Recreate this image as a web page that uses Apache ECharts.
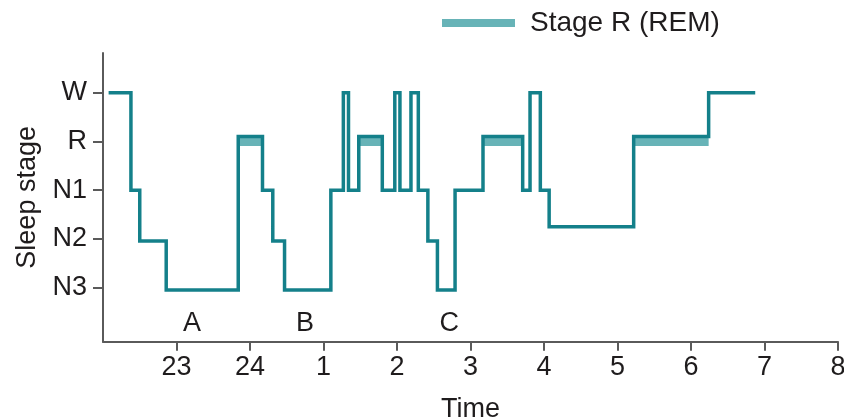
<!DOCTYPE html>
<html>
<head>
<meta charset="utf-8">
<script src="https://cdn.jsdelivr.net/npm/echarts@6/dist/echarts.min.js"></script>
<style>html,body{margin:0;padding:0;background:#fff}#c{width:844px;height:420px}</style>
</head>
<body>
<div id="c"></div>
<script>
// Hypnogram transitions: time (hours, 24 = midnight, 25 = 1 am ...) and stage level held from that time
var times = [22.10, 22.38, 22.50, 22.86, 23.84, 24.17, 24.31, 24.47, 25.10, 25.27, 25.34, 25.48, 25.80, 25.97, 26.04, 26.19, 26.29, 26.42, 26.55, 26.79, 27.17, 27.71, 27.81, 27.95, 28.07, 29.22, 30.24, 30.85];
var stages = [5, 3, 1.96, 0.95, 4.1, 3, 1.96, 0.95, 3, 5, 3, 4.1, 3, 5, 3, 5, 3, 1.96, 0.95, 3, 4.1, 3, 5, 3, 2.25, 4.1, 5, 5];
// REM periods (start, end)
var remStart = [23.84, 25.48, 27.17, 29.22];
var remEnd   = [24.17, 25.80, 27.71, 30.24];
var remLevel = 4.0;
// Axis ticks
var stageTickValues = [1, 2, 3, 4, 5];
var stageTickLabels = ['N3', 'N2', 'N1', 'R', 'W'];
var timeTickValues = [23, 24, 25, 26, 27, 28, 29, 30, 31, 32];
var timeTickLabels = ['23', '24', '1', '2', '3', '4', '5', '6', '7', '8'];
// Cycle annotations
var annoText = ['A', 'B', 'C'];
var annoTime = [23.21, 24.75, 26.71];
var annoLevel = [0.27, 0.27, 0.27];

var FONT = 'Liberation Sans, Arial, sans-serif';
var TXT = '#1f1c1d';
var AX = '#5a5a5a';
var FS = 27;

var mainData = times.map(function (t, i) { return [t, stages[i]]; });
var remData = [];
remStart.forEach(function (s, i) {
  if (i > 0) remData.push([null, null]);
  remData.push([s, remLevel]);
  remData.push([remEnd[i], remLevel]);
});
var annoData = annoText.map(function (a, i) { return { value: [annoTime[i], annoLevel[i]], name: a }; });

var chart = echarts.init(document.getElementById('c'), null, { renderer: 'canvas' });
chart.setOption({
  animation: false,
  backgroundColor: '#fff',
  textStyle: { fontFamily: FONT },
  grid: [
    { left: 103, right: 6, top: 53, bottom: 78.3, containLabel: false, outerBoundsMode: 'none' },
    // tick/label grid starting at the first labelled hour (23)
    { left: 176.5, right: 6, top: 53, bottom: 78.3, containLabel: false, outerBoundsMode: 'none' }
  ],
  legend: {
    show: true,
    left: 442, top: 9, padding: 0,
    icon: 'rect',
    itemWidth: 73, itemHeight: 8,
    itemGap: 10,
    data: [{ name: 'Stage R (REM)', itemStyle: { color: '#67b3b7' } }],
    textStyle: { fontFamily: FONT, fontSize: 28, color: TXT, padding: [0, 0, 0, 10] }
  },
  xAxis: [
    {
      gridIndex: 0, type: 'value', min: 22, max: 32,
      name: 'Time', nameLocation: 'middle', nameGap: 54,
      nameTextStyle: { fontFamily: FONT, fontSize: FS, color: TXT },
      axisLine: { show: true, onZero: false, lineStyle: { color: AX, width: 2 } },
      axisTick: { show: false },
      axisLabel: { show: false },
      splitLine: { show: false }
    },
    {
      gridIndex: 1, type: 'value', min: 23, max: 32, interval: 1,
      axisLine: { show: false, onZero: false },
      axisTick: { show: true, length: 9, lineStyle: { color: AX, width: 2 } },
      axisLabel: {
        fontFamily: FONT, fontSize: FS, color: TXT, margin: 12,
        formatter: function (v) { var i = timeTickValues.indexOf(Math.round(v)); return i >= 0 ? timeTickLabels[i] : ''; }
      },
      splitLine: { show: false }
    }
  ],
  yAxis: [
    {
      gridIndex: 0, type: 'value', min: -0.108, max: 5.814,
      name: 'Sleep stage', nameLocation: 'middle', nameGap: 62, nameRotate: 90,
      nameTextStyle: { fontFamily: FONT, fontSize: FS, color: TXT },
      axisLine: { show: true, onZero: false, lineStyle: { color: AX, width: 2 } },
      axisTick: { show: true, length: 10, lineStyle: { color: AX, width: 2 }, customValues: stageTickValues },
      axisLabel: {
        fontFamily: FONT, fontSize: FS, color: TXT, margin: 16,
        customValues: stageTickValues,
        formatter: function (v) { var i = stageTickValues.indexOf(Math.round(v)); return i >= 0 ? stageTickLabels[i] : ''; }
      },
      splitLine: { show: false }
    },
    {
      gridIndex: 1, type: 'value', min: 0, max: 1, show: false
    }
  ],
  series: [
    {
      name: 'Stage R (REM)', type: 'line', data: remData, connectNulls: false,
      xAxisIndex: 0, yAxisIndex: 0,
      showSymbol: false, symbol: 'none', z: 2,
      lineStyle: { color: '#67b3b7', width: 9, cap: 'butt' },
      itemStyle: { color: '#67b3b7' }
    },
    {
      name: 'Hypnogram', type: 'line', data: mainData, step: 'end',
      xAxisIndex: 0, yAxisIndex: 0,
      showSymbol: false, symbol: 'none', z: 3,
      lineStyle: { color: '#14808a', width: 3.5, join: 'miter', cap: 'square' }
    },
    {
      name: 'labels', type: 'scatter', data: annoData, symbolSize: 0, z: 4,
      xAxisIndex: 0, yAxisIndex: 0,
      itemStyle: { opacity: 1 },
      label: { show: true, position: 'inside', formatter: '{b}', fontFamily: FONT, fontSize: FS, color: TXT }
    }
  ]
});
</script>
</body>
</html>
